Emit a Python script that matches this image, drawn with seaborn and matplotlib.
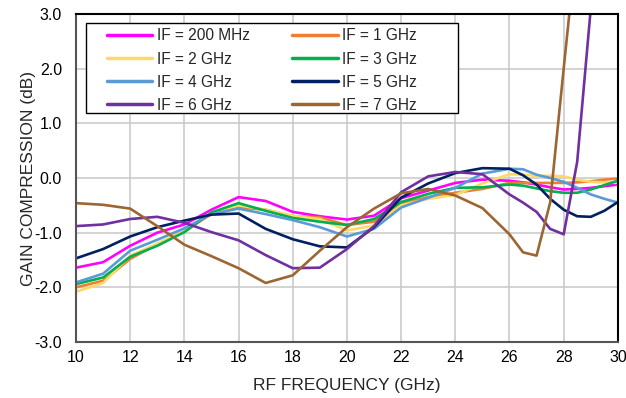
import numpy as np
import pandas as pd
import matplotlib
matplotlib.use('Agg')
import matplotlib.pyplot as plt
from matplotlib.lines import Line2D
from matplotlib.patches import Rectangle
import seaborn as sns

# RF frekvence (GHz)
freq = [10, 11, 12, 13, 14, 15, 16, 17, 18, 19, 20, 21, 22, 23, 24, 25, 26,
        26.5, 27, 27.5, 28, 28.5, 29, 29.5, 30]

# Gain compression (dB) pro jednotlive IF
if_200mhz = [-1.64, -1.54, -1.24, -1.0, -0.85, -0.58, -0.35, -0.42, -0.62, -0.7, -0.76, -0.69, -0.37,
             -0.23, -0.09, -0.03, -0.05, -0.08, -0.12, -0.17, -0.21, -0.2, -0.18, -0.15, -0.12]
if_1ghz = [-2.0, -1.88, -1.48, -1.21, -0.97, -0.66, -0.54, -0.58, -0.7, -0.72, -0.86, -0.8, -0.47,
           -0.35, -0.27, -0.2, -0.09, -0.09, -0.09, -0.09, -0.09, -0.08, -0.06, -0.03, -0.01]
if_2ghz = [-2.08, -1.92, -1.42, -1.2, -0.97, -0.63, -0.5, -0.58, -0.69, -0.75, -0.96, -0.87, -0.5,
           -0.38, -0.31, -0.1, 0.07, 0.06, 0.04, 0.04, 0.03, -0.03, -0.07, -0.08, -0.09]
if_3ghz = [-1.94, -1.82, -1.44, -1.24, -0.99, -0.63, -0.46, -0.6, -0.73, -0.8, -0.86, -0.75, -0.44,
           -0.29, -0.18, -0.17, -0.12, -0.14, -0.19, -0.24, -0.27, -0.27, -0.21, -0.13, -0.05]
if_4ghz = [-1.91, -1.75, -1.33, -1.13, -0.92, -0.66, -0.56, -0.66, -0.77, -0.9, -1.07, -0.93, -0.54,
           -0.36, -0.18, 0.08, 0.17, 0.16, 0.06, 0.0, -0.07, -0.18, -0.3, -0.38, -0.45]
if_5ghz = [-1.47, -1.3, -1.07, -0.9, -0.78, -0.67, -0.65, -0.93, -1.12, -1.25, -1.27, -0.9, -0.36,
           -0.1, 0.09, 0.18, 0.17, 0.05, -0.12, -0.38, -0.58, -0.7, -0.71, -0.6, -0.44]
if_6ghz = [-0.88, -0.85, -0.75, -0.71, -0.82, -0.99, -1.14, -1.41, -1.65, -1.64, -1.3, -0.88, -0.26,
           0.03, 0.11, 0.07, -0.3, -0.45, -0.62, -0.93, -1.03, 0.3, 3.1, 6.0, 8.0]
if_7ghz = [-0.46, -0.49, -0.56, -0.88, -1.22, -1.43, -1.65, -1.92, -1.78, -1.33, -0.9, -0.56, -0.28,
           -0.2, -0.32, -0.55, -1.03, -1.36, -1.42, -0.45, 2.0, 4.4, 6.5, 8.0, 9.0]

labels = ['IF = 200 MHz', 'IF = 1 GHz', 'IF = 2 GHz', 'IF = 3 GHz',
          'IF = 4 GHz', 'IF = 5 GHz', 'IF = 6 GHz', 'IF = 7 GHz']
colors = ['#FF00FF', '#F07D32', '#FFD966', '#00B050',
          '#5B9BD5', '#002060', '#7030A0', '#9C6632']
series = [if_200mhz, if_1ghz, if_2ghz, if_3ghz, if_4ghz, if_5ghz, if_6ghz, if_7ghz]

# long format pro seaborn
df = pd.concat([pd.DataFrame({'freq': freq, 'gain': s, 'IF': lab}) for s, lab in zip(series, labels)])

sns.set_theme(style='white')
plt.rcParams['font.family'] = ['Liberation Sans', 'DejaVu Sans']

fig = plt.figure(figsize=(6.26, 3.98), dpi=100)
ax = fig.add_axes([0.1214, 0.1407, 0.8656, 0.8241])

sns.lineplot(data=df, x='freq', y='gain', hue='IF', hue_order=labels,
             palette=dict(zip(labels, colors)), estimator=None, sort=False,
             linewidth=1.9, legend=False, ax=ax)

ax.set_xlim(10, 30)
ax.set_ylim(-3, 3)
ax.set_xticks(range(10, 31, 2))
ax.set_yticks(np.arange(-3, 3.01, 1))
ax.set_yticklabels([f'{v:.1f}' for v in np.arange(-3, 3.01, 1)])
ax.grid(True, color='#C8C8C8', linewidth=1.1)
ax.tick_params(axis='both', length=0, labelsize=11.5, colors='black')
ax.tick_params(axis='y', pad=10)
ax.tick_params(axis='x', pad=6)
ax.set_xlabel('RF FREQUENCY (GHz)', fontsize=12.5, labelpad=9)
ax.set_ylabel('GAIN COMPRESSION (dB)', fontsize=12.5, labelpad=-1)
for side in ['top', 'right']:
    ax.spines[side].set_color('black')
    ax.spines[side].set_linewidth(1.5)
for side in ['left', 'bottom']:
    ax.spines[side].set_color('#555555')
    ax.spines[side].set_linewidth(1.5)

# ramecek legendy zvlast (Excel styl, vetsi okraj vlevo)
ax.add_patch(Rectangle((0.018, 0.697), 0.687, 0.275, transform=ax.transAxes,
                       facecolor='white', edgecolor='black', linewidth=1.0, zorder=4))

# legenda po radcich (200 MHz, 1 GHz / 2 GHz, 3 GHz ...)
order = [0, 2, 4, 6, 1, 3, 5, 7]
handles = [Line2D([0], [0], color=colors[i], linewidth=2.5) for i in order]
leg = ax.legend(handles, [labels[i] for i in order], ncol=2, loc='upper left',
                bbox_to_anchor=(0.057, 0.956), fontsize=11.2, frameon=False,
                handlelength=2.9, handletextpad=0.3, columnspacing=2.75, labelspacing=0.52,
                borderpad=0, borderaxespad=0)
leg.set_zorder(5)

fig.savefig('out.png', dpi=100)
